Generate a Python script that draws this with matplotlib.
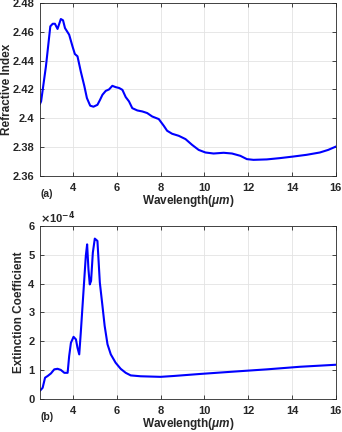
import matplotlib
matplotlib.use("Agg")
import matplotlib.pyplot as plt

# refractive index, panel (a)
wl_n = [2.5, 2.55, 2.77, 2.97, 3.08, 3.18, 3.30, 3.45, 3.55, 3.64, 3.83, 3.98, 4.09, 4.21,
        4.36, 4.52, 4.64, 4.79, 4.94, 5.12, 5.24, 5.35, 5.50, 5.65, 5.80, 5.95, 6.11,
        6.26, 6.41, 6.56, 6.71, 6.94, 7.17, 7.39, 7.62, 7.92, 8.15, 8.30, 8.53, 8.83,
        9.14, 9.44, 9.74, 10.05, 10.42, 10.88, 11.26, 11.64, 11.94, 12.24, 12.85, 13.45,
        14.06, 14.67, 15.27, 15.65, 16.0]
n_val = [2.410, 2.4117, 2.436, 2.4638, 2.4656, 2.4656, 2.462, 2.4689, 2.468, 2.4626, 2.458,
         2.450, 2.4446, 2.443, 2.4325, 2.4225, 2.414, 2.4087, 2.408, 2.4093, 2.4128, 2.4163,
         2.419, 2.420, 2.4225, 2.4216, 2.421, 2.4197, 2.4147, 2.4117, 2.407, 2.4054, 2.4047,
         2.4036, 2.4012, 2.3994, 2.3947, 2.3913, 2.3892, 2.3878, 2.3855, 2.3815, 2.378,
         2.3762, 2.3755, 2.376, 2.3755, 2.3739, 2.3716, 2.3711, 2.3714, 2.3723, 2.3734,
         2.3746, 2.3762, 2.378, 2.3803]

# extinction coefficient (x1e-4), panel (b)
wl_k = [2.5, 2.55, 2.62, 2.73, 2.85, 3.0, 3.15, 3.30, 3.45, 3.61, 3.76, 3.83, 3.91, 4.03,
        4.14, 4.21, 4.29, 4.36, 4.44, 4.52, 4.59, 4.65, 4.71, 4.77, 4.83, 4.91, 5.0, 5.12,
        5.23, 5.35, 5.45, 5.58, 5.73, 5.95, 6.18, 6.41, 6.64, 7.09, 8.0, 8.6, 9.8, 11.3,
        12.85, 14.36, 16.0]
k_val = [0.28, 0.32, 0.38, 0.73, 0.79, 0.88, 1.02, 1.04, 1.0, 0.90, 0.90, 1.48, 1.94, 2.15,
         2.06, 1.77, 1.54, 2.29, 3.22, 4.15, 4.96, 5.36, 4.5, 3.97, 4.09, 5.07, 5.56, 5.48,
         4.03, 3.22, 2.53, 1.89, 1.54, 1.25, 1.04, 0.90, 0.81, 0.78, 0.76, 0.79, 0.86, 0.94,
         1.02, 1.11, 1.18]

plt.rcParams['font.family'] = 'Liberation Sans'
plt.rcParams['font.weight'] = 'bold'
plt.rcParams['mathtext.fontset'] = 'custom'
plt.rcParams['mathtext.it'] = 'Liberation Sans:italic:bold'

fig = plt.figure(figsize=(3.42, 4.32), dpi=100)
ax1 = fig.add_axes([0.117, 0.593, 0.865, 0.400])
ax2 = fig.add_axes([0.117, 0.077, 0.865, 0.400])

edge = '#262626'
for ax in (ax1, ax2):
    ax.grid(True, color='#e3e3e3', linewidth=0.6)
    ax.set_axisbelow(True)
    ax.tick_params(direction='in', top=True, right=True, length=3, width=0.6,
                   labelsize=8, colors=edge)
    ax.tick_params(axis='x', pad=5)
    ax.tick_params(axis='y', pad=4)
    for s in ax.spines.values():
        s.set_color(edge)
        s.set_linewidth(0.6)
    ax.set_xlim(2.5, 16)
    ax.set_xticks([4, 6, 8, 10, 12, 14, 16])
    ax.set_xlabel(r'Wavelength($\mu m$)', fontsize=8.5, fontweight='bold', color=edge, labelpad=0.5)

ax1.plot(wl_n, n_val, color='#0000ff', linewidth=1.5)
ax1.set_ylim(2.36, 2.48)
ax1.set_yticks([2.36, 2.38, 2.4, 2.42, 2.44, 2.46, 2.48])
ax1.set_yticklabels(['2.36', '2.38', '2.4', '2.42', '2.44', '2.46', '2.48'])
ax1.set_ylabel('Refractive Index', fontsize=8.5, fontweight='bold', color=edge)
ax1.yaxis.set_label_coords(-0.092, 0.5)
ax1.text(0.003, -0.125, '(a)', transform=ax1.transAxes, fontsize=7.5, fontweight='bold', color=edge)

ax2.plot(wl_k, k_val, color='#0000ff', linewidth=1.5)
ax2.set_ylim(0, 6)
ax2.set_yticks([0, 1, 2, 3, 4, 5, 6])
ax2.set_ylabel('Extinction Coefficient', fontsize=8.5, fontweight='bold', color=edge)
ax2.yaxis.set_label_coords(-0.052, 0.5)
ax2.text(0.003, -0.125, '(b)', transform=ax2.transAxes, fontsize=7.5, fontweight='bold', color=edge)
ax2.text(0.0, 1.02, r'$\times$10$^{-4}$', transform=ax2.transAxes, fontsize=8,
         fontweight='bold', color=edge)

fig.savefig('out.png', dpi=100)
